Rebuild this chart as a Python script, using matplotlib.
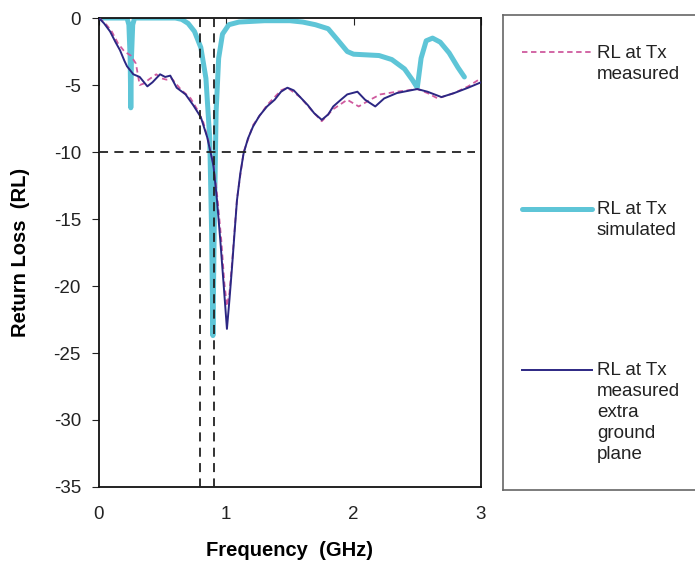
import matplotlib.pyplot as plt
from matplotlib.lines import Line2D

plt.rcParams['font.family'] = ['Liberation Sans', 'DejaVu Sans']

# RL at Tx, measured
f_meas = [0, 0.05, 0.1, 0.15, 0.2, 0.25, 0.29, 0.32, 0.35, 0.39, 0.45, 0.49, 0.53, 0.57,
          0.64, 0.72, 0.77, 0.82, 0.86, 0.9, 0.93, 0.96, 0.985, 1.005, 1.025, 1.045,
          1.084, 1.136, 1.21, 1.32, 1.43, 1.48, 1.58, 1.69, 1.75, 1.84, 1.95, 2.04,
          2.13, 2.21, 2.34, 2.5, 2.58, 2.66, 2.79, 2.9, 3.0]
rl_meas = [0, -0.4, -1.0, -1.9, -2.5, -2.8, -3.4, -5.0, -4.9, -4.6, -4.2, -4.5, -4.6, -4.5,
           -5.3, -6.0, -6.8, -7.8, -9.2, -11.0, -13.4, -16.5, -19.8, -21.5, -20.5, -18.3,
           -13.5, -10.0, -8.0, -6.5, -5.4, -5.2, -5.9, -7.1, -7.7, -6.8, -6.1, -6.6,
           -6.1, -5.7, -5.5, -5.3, -5.6, -6.0, -5.6, -5.1, -4.5]

# RL at Tx, simulated
f_sim = [0, 0.22, 0.235, 0.245, 0.25, 0.255, 0.265, 0.28, 0.6, 0.65, 0.7, 0.75, 0.8,
         0.84, 0.87, 0.885, 0.895, 0.905, 0.92, 0.94, 0.97, 1.02, 1.1, 1.3, 1.5, 1.6,
         1.7, 1.8, 1.88, 1.95, 2.0, 2.2, 2.3, 2.4, 2.46, 2.5, 2.53, 2.57, 2.62, 2.68,
         2.75, 2.82, 2.87]
rl_sim = [0, 0, -0.5, -3.0, -6.7, -3.0, -0.5, 0, 0, -0.1, -0.4, -1.0, -2.2,
          -4.5, -9.0, -16.0, -23.7, -16.0, -7.0, -3.0, -1.2, -0.5, -0.3, -0.2, -0.2, -0.3,
          -0.5, -0.8, -1.7, -2.5, -2.7, -2.8, -3.1, -3.8, -4.6, -5.2, -3.0, -1.7, -1.5, -1.8,
          -2.6, -3.7, -4.4]

# RL at Tx, measured with extra ground plane
f_gnd = [0, 0.04, 0.087, 0.13, 0.165, 0.2, 0.22, 0.27, 0.32, 0.38, 0.42, 0.48, 0.52,
         0.56, 0.61, 0.68, 0.74, 0.8, 0.85, 0.89, 0.9, 0.927, 0.953, 0.98, 1.005, 1.025,
         1.045, 1.065, 1.084, 1.11, 1.136, 1.17, 1.21, 1.26, 1.32, 1.38, 1.43, 1.48,
         1.53, 1.58, 1.64, 1.69, 1.75, 1.8, 1.84, 1.9, 1.95, 2.03, 2.09, 2.17, 2.24,
         2.34, 2.5, 2.58, 2.69, 2.79, 2.9, 3.0]
rl_gnd = [0, -0.4, -1.0, -1.8, -2.4, -3.2, -3.6, -4.2, -4.4, -5.1, -4.8, -4.2, -4.4,
          -4.3, -5.2, -5.7, -6.5, -7.4, -8.9, -10.6, -11.1, -13.6, -16.6, -20.0, -23.2, -21.0,
          -18.6, -16.0, -13.6, -11.6, -10.1, -9.0, -8.1, -7.3, -6.6, -6.1, -5.5, -5.2,
          -5.4, -5.9, -6.5, -7.1, -7.6, -7.2, -6.6, -6.1, -5.7, -5.5, -6.1, -6.6, -6.0,
          -5.6, -5.3, -5.5, -5.9, -5.6, -5.2, -4.8]

band_edges = [0.79, 0.9]
rl_limit = -10

labels = ['RL at Tx\nmeasured', 'RL at Tx\nsimulated',
          'RL at Tx\nmeasured\nextra\nground\nplane']
c_meas, c_sim, c_gnd = '#cf5a9e', '#5ec5d7', '#2c2783'

fig = plt.figure(figsize=(6.95, 5.63), dpi=100)
ax = fig.add_axes([0.1424, 0.135, 0.5496, 0.833])

ax.plot(f_sim, rl_sim, color=c_sim, lw=3.6, solid_capstyle='round', zorder=2)
ax.plot(f_meas, rl_meas, color=c_meas, lw=1.3, ls=(0, (3, 2)), zorder=3)
ax.plot(f_gnd, rl_gnd, color=c_gnd, lw=1.4, zorder=4)

dash = (0, (5, 3.5))
ax.plot([0, 2.95], [rl_limit, rl_limit], color='#222222', lw=1.3, ls=dash, zorder=5)
for fe in band_edges:
    ax.plot([fe, fe], [0, -35], color='#222222', lw=1.3, ls=dash, zorder=5)

ax.set_xlim(0, 3)
ax.set_ylim(-35, 0)
ax.set_xticks([0, 1, 2, 3])
ax.set_yticks(range(-35, 1, 5))
ax.set_yticklabels([str(v) for v in range(-35, 1, 5)])
ax.tick_params(axis='x', bottom=False, top=True, labelbottom=True, direction='in',
               length=5, labelsize=13.5, pad=14, colors='#222222')
ax.tick_params(axis='y', direction='out', length=5, labelsize=13.5, pad=8,
               colors='#222222')
for s in ax.spines.values():
    s.set_color('#111111')
    s.set_linewidth(1.3)

ax.set_xlabel('Frequency  (GHz)', fontsize=14.5, fontweight='bold', labelpad=13)
ax.set_ylabel('Return Loss  (RL)', fontsize=14.5, fontweight='bold', labelpad=17)

# legend panel on the right
lax = fig.add_axes([0.7237, 0.1297, 0.29, 0.8433])
lax.set_xlim(0, 1)
lax.set_ylim(0, 1)
lax.set_xticks([])
lax.set_yticks([])
for s in lax.spines.values():
    s.set_color('#666666')
    s.set_linewidth(1.2)

handles = [
    Line2D([0.095, 0.44], [0, 0], color=c_meas, lw=1.3, ls=(0, (3, 2))),
    Line2D([0.095, 0.44], [0, 0], color=c_sim, lw=3.6, solid_capstyle='round'),
    Line2D([0.095, 0.44], [0, 0], color=c_gnd, lw=1.4),
]
rows = [0.922, 0.592, 0.253]
for h, y, txt in zip(handles, rows, labels):
    h.set_ydata([y, y])
    lax.add_line(h)
    lax.text(0.466, y + 0.016, txt, fontsize=13.5, va='top', ha='left',
             color='#222222', linespacing=1.3)

fig.savefig('out.png', dpi=100)
